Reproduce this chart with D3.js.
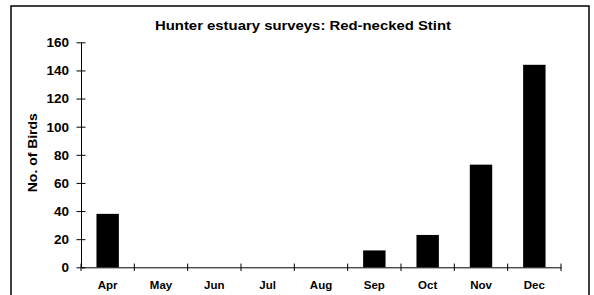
<!DOCTYPE html>
<html>
<head>
<meta charset="utf-8">
<script src="https://cdn.jsdelivr.net/npm/d3@7"></script>
<style>
  html, body { margin: 0; padding: 0; background: #fff; }
  svg { display: block; font-family: "Liberation Sans", Arial, sans-serif; }
</style>
</head>
<body>
<svg id="chart" width="594" height="295"></svg>
<script>
const months = ["Apr", "May", "Jun", "Jul", "Aug", "Sep", "Oct", "Nov", "Dec"];
const birds = [38, 0, 0, 0, 0, 12, 23, 73, 144];
const yTicks = [0, 20, 40, 60, 80, 100, 120, 140, 160];
const titleText = "Hunter estuary surveys: Red-necked Stint";
const yLabelText = "No. of Birds";

const svg = d3.select("#chart");
svg.append("rect").attr("width", 594).attr("height", 295).attr("fill", "#fff");

// outer frame
svg.append("rect")
  .attr("x", 11).attr("y", 6).attr("width", 578).attr("height", 300)
  .attr("fill", "none").attr("stroke", "#000").attr("stroke-width", 1.5);

const x = d3.scaleBand().domain(months).range([81, 561])
  .paddingInner(0.58).paddingOuter(0.29);
const y = d3.scaleLinear().domain([0, 160]).range([267.3, 42.3]);

// bars
svg.append("g").selectAll("rect").data(months).join("rect")
  .attr("x", d => x(d))
  .attr("width", x.bandwidth())
  .attr("y", (d, i) => y(birds[i]))
  .attr("height", (d, i) => y(0) - y(birds[i]))
  .attr("fill", "#000");

// y axis
const yAxis = svg.append("g").attr("transform", "translate(81,0)")
  .call(d3.axisLeft(y).tickValues(yTicks).tickSize(0).tickPadding(12).tickFormat(d3.format("d")));
yAxis.select(".domain").attr("stroke", "#000").attr("stroke-width", 1);
yAxis.selectAll(".tick line").attr("x1", -4.5).attr("x2", 4.5).attr("stroke", "#000");
yAxis.selectAll(".tick text")
  .attr("font-size", 13.5).attr("font-weight", "bold").attr("fill", "#000")
  .attr("font-family", "'Liberation Sans', Arial, sans-serif");

// x axis
const xAxis = svg.append("g").attr("transform", `translate(0,${y(0)})`)
  .call(d3.axisBottom(x).tickSize(0).tickPadding(14));
xAxis.select(".domain").attr("stroke", "#000").attr("stroke-width", 1);
xAxis.selectAll(".tick text")
  .attr("font-size", 11.5).attr("font-weight", "bold").attr("fill", "#000")
  .attr("font-family", "'Liberation Sans', Arial, sans-serif");

// boundary ticks between categories
const half = (x.step() - x.bandwidth()) / 2;
const bounds = months.map(m => x(m) - half).concat([x(months[months.length - 1]) + x.bandwidth() + half]);
xAxis.append("g").selectAll("line").data(bounds).join("line")
  .attr("x1", d => d).attr("x2", d => d)
  .attr("y1", -3.7).attr("y2", 3.7)
  .attr("stroke", "#000");

// title
svg.append("text")
  .attr("x", 303).attr("y", 30)
  .attr("text-anchor", "middle")
  .attr("font-size", 13).attr("font-weight", "bold")
  .attr("textLength", 296).attr("lengthAdjust", "spacingAndGlyphs")
  .text(titleText);

// y label
svg.append("text")
  .attr("transform", "translate(37,152.7) rotate(-90)")
  .attr("text-anchor", "middle")
  .attr("font-size", 12.5).attr("font-weight", "bold")
  .attr("textLength", 79).attr("lengthAdjust", "spacingAndGlyphs")
  .text(yLabelText);
</script>
</body>
</html>
